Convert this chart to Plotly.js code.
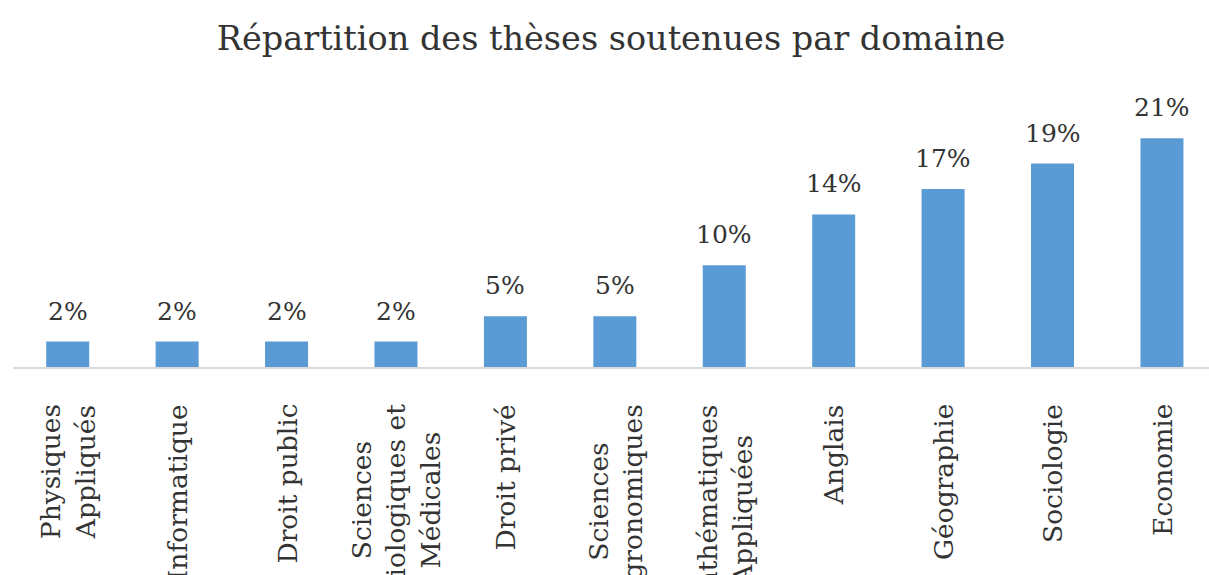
<!DOCTYPE html>
<html>
<head>
<meta charset="utf-8">
<script src="https://cdn.plot.ly/plotly-3.0.1.min.js"></script>
<style>html,body{margin:0;padding:0;background:#fff;}#chart{width:1209px;height:575px;}</style>
</head>
<body>
<div id="chart"></div>
<script>
// Data
const categories = ["Physiques<br>Appliqués", "Informatique", "Droit public", "Sciences<br>Biologiques et<br>Médicales", "Droit privé", "Sciences<br>Agronomiques", "Mathématiques<br>Appliquées", "Anglais", "Géographie", "Sociologie", "Economie"];
const values = [2.38, 2.38, 2.38, 2.38, 4.76, 4.76, 9.52, 14.29, 16.67, 19.05, 21.43];
const valueLabels = ["2%", "2%", "2%", "2%", "5%", "5%", "10%", "14%", "17%", "19%", "21%"];
const chartTitle = "Répartition des thèses soutenues par domaine";

const FONT = "DejaVu Serif, Liberation Serif, serif";
const TXT = "#333333";

const trace = {
  type: "bar",
  x: categories,
  y: values,
  marker: {color: "#5b9bd5"},
  hoverinfo: "skip"
};

const annotations = [];
categories.forEach((c, i) => {
  // value labels above bars
  annotations.push({
    x: c, y: values[i], xref: "x", yref: "y",
    text: valueLabels[i], showarrow: false,
    xanchor: "center", yanchor: "bottom", yshift: 14,
    font: {family: FONT, size: 25, color: TXT}
  });
  // rotated category labels, lines centred
  annotations.push({
    x: c, y: 0, xref: "x", yref: "paper",
    text: c, showarrow: false, textangle: -90, align: "center",
    xanchor: "center", yanchor: "top", yshift: -35,
    font: {family: FONT, size: 26.5, color: TXT}
  });
});

const layout = {
  width: 1209, height: 575,
  margin: {l: 13, r: 0, t: 100, b: 208},
  paper_bgcolor: "#ffffff", plot_bgcolor: "#ffffff",
  title: {
    text: chartTitle, x: 0.5, xanchor: "center", xref: "paper",
    y: 0.933, yanchor: "middle",
    font: {family: FONT, size: 33.5, color: TXT}
  },
  bargap: 0.607,
  showlegend: false,
  xaxis: {
    type: "category", range: [-0.5, 10.43],
    showticklabels: false, ticks: "", showgrid: false, zeroline: false,
    showline: true, linecolor: "#d9d9d9", linewidth: 2, automargin: false
  },
  yaxis: {
    range: [0, 25], visible: false, showgrid: false, zeroline: false, automargin: false
  },
  annotations: annotations
};

Plotly.newPlot("chart", [trace], layout, {displayModeBar: false, staticPlot: true});
</script>
</body>
</html>
